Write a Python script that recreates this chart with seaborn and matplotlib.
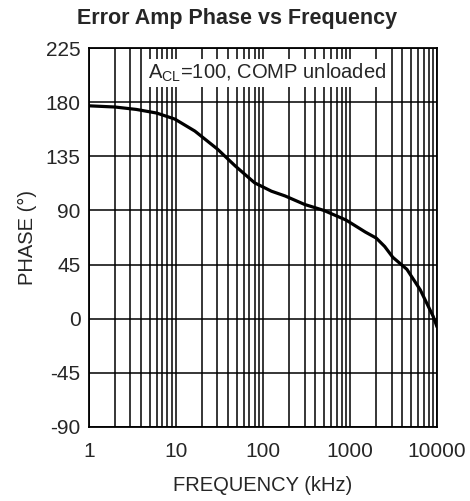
import numpy as np
import pandas as pd
import seaborn as sns
import matplotlib.pyplot as plt
from matplotlib.ticker import LogLocator, FixedLocator, NullFormatter

# valori
freq_khz = [1, 2, 3.5, 6, 9.7, 16.5, 30, 48, 80, 125, 180, 300, 500, 900,
            1500, 2000, 2500, 3100, 4500, 6400, 9000, 10000]
phase_deg = [177, 176, 174, 171, 166, 156, 141, 127, 113, 106, 102, 95, 90, 82,
             72, 67, 60, 51, 41, 24, 2, -7]
y_ticks = [-90, -45, 0, 45, 90, 135, 180, 225]
x_ticks = [1, 10, 100, 1000, 10000]

data = pd.DataFrame({"freq": freq_khz, "phase": phase_deg})

sns.set_style("white")
plt.rcParams['font.family'] = ['Liberation Sans', 'DejaVu Sans']
plt.rcParams['mathtext.fontset'] = 'custom'
plt.rcParams['mathtext.rm'] = 'Liberation Sans'
plt.rcParams['axes.unicode_minus'] = False

fig = plt.figure(figsize=(4.7, 5.01), dpi=100)
ax = fig.add_axes([0.189, 0.148, 0.741, 0.756])

sns.lineplot(x="freq", y="phase", data=data, ax=ax, color="black", linewidth=2.3, zorder=5)

ax.set_xscale("log")
ax.set_xlim(1, 10000)
ax.set_ylim(-90, 225)
ax.xaxis.set_major_locator(FixedLocator(x_ticks))
ax.xaxis.set_minor_locator(LogLocator(base=10, subs=np.arange(2, 10)))
ax.xaxis.set_minor_formatter(NullFormatter())
ax.set_xticklabels([str(t) for t in x_ticks])
ax.set_yticks(y_ticks)

ax.grid(True, which="major", color="black", linewidth=1.1)
ax.grid(True, which="minor", axis="x", color="black", linewidth=1.1)
ax.tick_params(axis="y", which="both", length=0, labelsize=15, pad=6)
ax.tick_params(axis="x", which="both", length=0, labelsize=15, pad=11)
for s in ax.spines.values():
    s.set_color("black")
    s.set_linewidth(1.3)

ax.text(0.17, 0.935, r"A$_{\mathregular{CL}}$=100, COMP unloaded", transform=ax.transAxes,
        fontsize=14.5, ha="left", va="center", zorder=6,
        bbox=dict(facecolor="white", edgecolor="none", pad=2))

ax.set_xlabel("FREQUENCY (kHz)", fontsize=14.5, labelpad=11)
ax.set_ylabel("PHASE (°)", fontsize=14.5, labelpad=6)
fig.suptitle("Error Amp Phase vs Frequency", fontsize=15.5, fontweight="bold", x=0.505, y=0.985)

plt.savefig("out.png", dpi=100)
